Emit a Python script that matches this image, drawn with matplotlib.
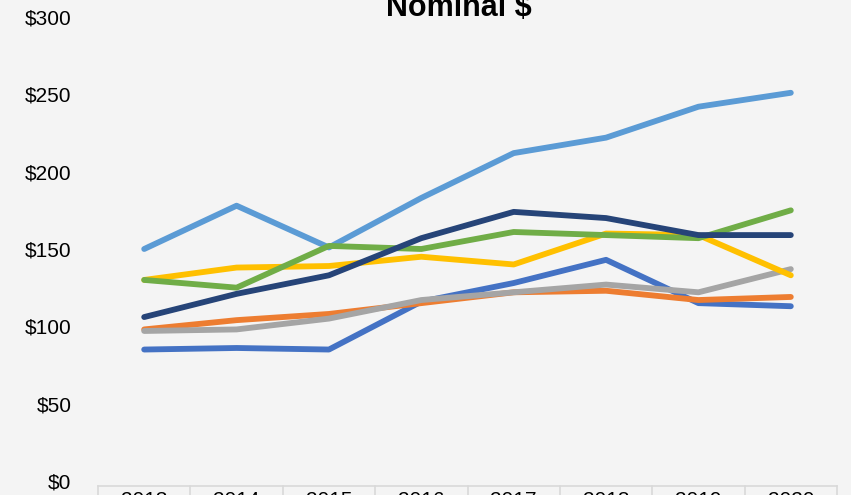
import matplotlib.pyplot as plt
from matplotlib.lines import Line2D

plt.rcParams['font.family'] = ['Liberation Sans', 'DejaVu Sans']

years = ['2013', '2014', '2015', '2016', '2017', '2018', '2019', '2020']

s_lightblue = [150, 178, 151, 183, 212, 222, 242, 251]
s_navy = [106, 121, 133, 157, 174, 170, 159, 159]
s_green = [130, 125, 152, 150, 161, 159, 157, 175]
s_yellow = [130, 138, 139, 145, 140, 160, 159, 133]
s_blue = [85, 86, 85, 116, 128, 143, 115, 113]
s_orange = [98, 104, 108, 115, 122, 123, 117, 119]
s_gray = [97, 98, 105, 117, 122, 127, 122, 137]

series = [
    (s_blue, '#4472C4'),
    (s_orange, '#ED7D31'),
    (s_gray, '#A5A5A5'),
    (s_yellow, '#FFC000'),
    (s_lightblue, '#5B9BD5'),
    (s_green, '#70AD47'),
    (s_navy, '#264478'),
]

bg = '#F4F4F4'
fig = plt.figure(figsize=(8.51, 4.95), dpi=100, facecolor=bg)
ax = fig.add_axes([98 / 851, 14 / 495, 739 / 851, 464 / 495], facecolor=bg)

x = list(range(len(years)))
for vals, col in series:
    ax.plot(x, vals, color=col, lw=4.2, solid_capstyle='round', solid_joinstyle='round')

ax.set_xlim(-0.5, len(years) - 0.5)
ax.set_ylim(0, 300)
ax.set_yticks(range(0, 301, 50))
ax.set_yticklabels(['$%d' % v for v in range(0, 301, 50)], fontsize=15)
ax.tick_params(axis='y', length=0, pad=19)
ax.set_xticks([])
for s in ax.spines.values():
    s.set_visible(False)

# data table style header below the axis
tcol = '#D9D9D9'
ax.add_line(Line2D([-0.5, len(years) - 0.5], [-0.01, -0.01], transform=ax.get_xaxis_transform(),
                   color=tcol, lw=1.2, clip_on=False))
for i in range(len(years) + 1):
    ax.add_line(Line2D([i - 0.5, i - 0.5], [-0.01, -0.2], transform=ax.get_xaxis_transform(),
                       color=tcol, lw=1.2, clip_on=False))
for i, yr in enumerate(years):
    ax.text(i, -0.022, yr, transform=ax.get_xaxis_transform(), ha='center', va='top',
            fontsize=15, clip_on=False)

fig.text(459 / 851, 1 - 16 / 495, 'Nominal $', ha='center', va='baseline',
         fontsize=22, fontweight='bold')

fig.savefig('out.png', dpi=100, facecolor=bg)
